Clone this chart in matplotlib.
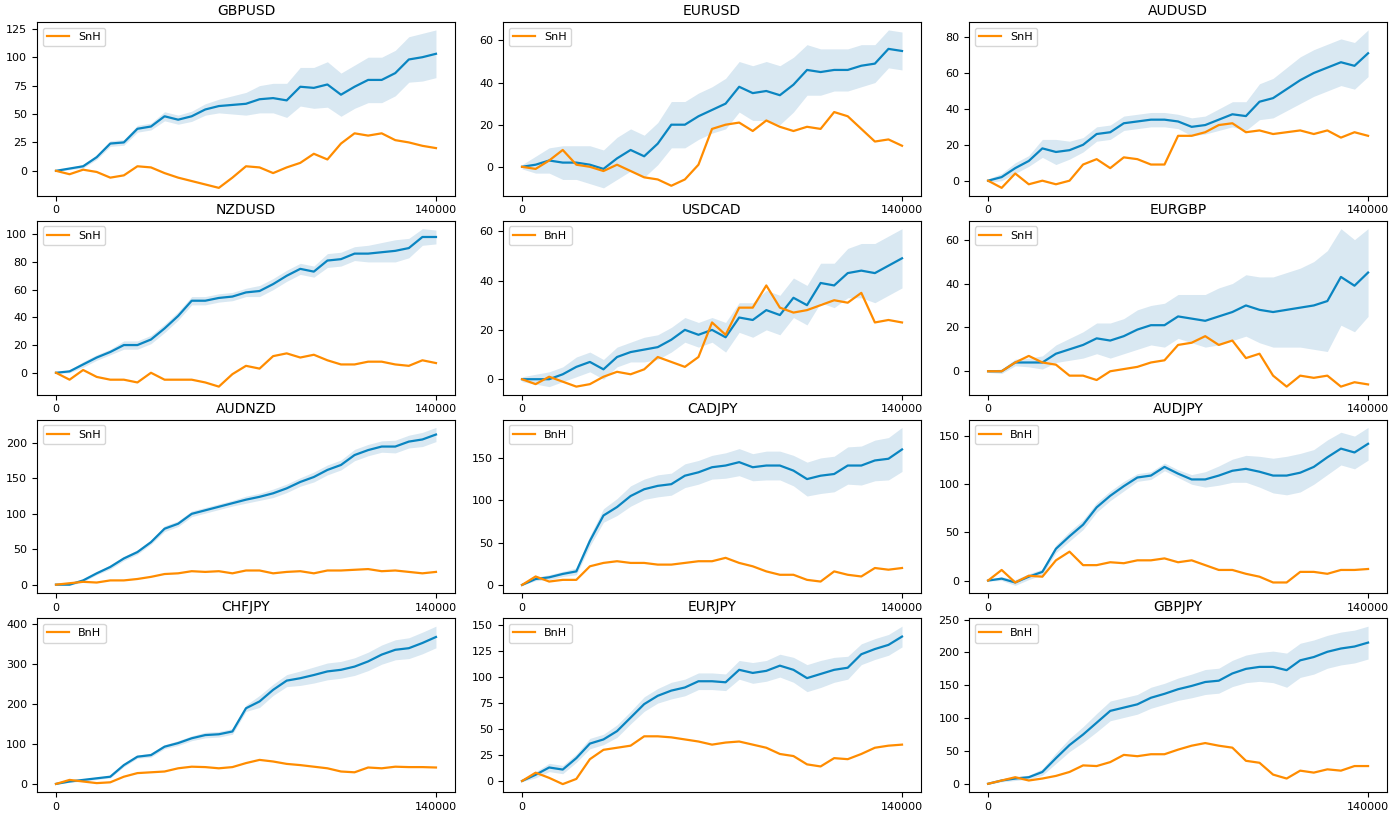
import numpy as np
import matplotlib
matplotlib.use("Agg")
import matplotlib.pyplot as plt

# sample positions (every 5000 steps)
steps = np.arange(0, 140001, 5000)

pairs = ["GBPUSD", "EURUSD", "AUDUSD", "NZDUSD", "USDCAD", "EURGBP",
         "AUDNZD", "CADJPY", "AUDJPY", "CHFJPY", "EURJPY", "GBPJPY"]
bench_labels = ["SnH", "SnH", "SnH", "SnH", "BnH", "SnH",
                "SnH", "BnH", "BnH", "BnH", "BnH", "BnH"]

# mean agent curve, band half width, benchmark curve
gbpusd_mean = [0, 2, 4, 12, 24, 25, 37, 39, 48, 45, 48, 54, 57, 58, 59, 63, 64, 62, 74, 73, 76, 67, 74, 80, 80, 86, 98, 100, 103]
gbpusd_band = [0.5, 1, 1.5, 2, 2.5, 2.5, 3, 3, 4, 4, 4.5, 5, 6, 8, 10, 12, 13, 15, 17, 18, 20, 19, 19, 20, 20, 20, 20, 21, 21]
gbpusd_bench = [0, -3, 1, -1, -6, -4, 4, 3, -2, -6, -9, -12, -15, -6, 4, 3, -2, 3, 7, 15, 10, 24, 33, 31, 33, 27, 25, 22, 20]

eurusd_mean = [0, 1, 3, 2, 2, 1, -1, 4, 8, 5, 11, 20, 20, 24, 27, 30, 38, 35, 36, 34, 39, 46, 45, 46, 46, 48, 49, 56, 55]
eurusd_band = [1, 4, 6, 8, 8, 9, 9, 10, 10, 10, 10, 11, 11, 11, 11, 12, 12, 13, 14, 14, 13, 12, 11, 10, 10, 10, 9, 9, 9]
eurusd_bench = [0, -1, 3, 8, 1, 0, -2, 1, -2, -5, -6, -9, -6, 1, 18, 20, 21, 17, 22, 19, 17, 19, 18, 26, 24, 18, 12, 13, 10]

audusd_mean = [0, 2, 7, 11, 18, 16, 17, 20, 26, 27, 32, 33, 34, 34, 33, 30, 31, 34, 37, 36, 44, 46, 51, 56, 60, 63, 66, 64, 71]
audusd_band = [1, 2, 3, 3, 5, 7, 5, 4, 4, 4, 4, 4, 4, 4, 4, 5, 5, 6, 7, 8, 10, 11, 12, 13, 13, 13, 13, 13, 13]
audusd_bench = [0, -4, 4, -2, 0, -2, 0, 9, 12, 7, 13, 12, 9, 9, 25, 25, 27, 31, 32, 27, 28, 26, 27, 28, 26, 28, 24, 27, 25]

nzdusd_mean = [0, 1, 6, 11, 15, 20, 20, 24, 32, 41, 52, 52, 54, 55, 58, 59, 64, 70, 75, 73, 81, 82, 86, 86, 87, 88, 90, 98, 98]
nzdusd_band = [0.5, 1, 2, 2, 2, 3, 3, 3, 3, 3, 3, 3, 3, 3, 3, 4, 4, 4, 4, 4, 5, 5, 5, 6, 7, 8, 7, 6, 5]
nzdusd_bench = [0, -5, 2, -3, -5, -5, -7, 0, -5, -5, -5, -7, -10, -1, 5, 3, 12, 14, 11, 13, 9, 6, 6, 8, 8, 6, 5, 9, 7]

usdcad_mean = [0, 0, 0, 2, 5, 7, 4, 9, 11, 12, 13, 16, 20, 18, 20, 17, 25, 24, 28, 26, 33, 30, 39, 38, 43, 44, 43, 46, 49]
usdcad_band = [1, 2, 3, 3, 4, 4, 4, 4, 4, 5, 5, 5, 5, 5, 5, 6, 6, 7, 8, 8, 8, 8, 8, 9, 10, 11, 12, 12, 12]
usdcad_bench = [0, -2, 1, -1, -3, -2, 1, 3, 2, 4, 9, 7, 5, 9, 23, 18, 29, 29, 38, 29, 27, 28, 30, 32, 31, 35, 23, 24, 23]

eurgbp_mean = [0, 0, 4, 4, 4, 8, 10, 12, 15, 14, 16, 19, 21, 21, 25, 24, 23, 25, 27, 30, 28, 27, 28, 29, 30, 32, 43, 39, 45]
eurgbp_band = [0.5, 1, 1.5, 2, 3, 4, 5, 6, 7, 8, 8, 9, 9, 10, 10, 11, 12, 13, 13, 14, 15, 16, 17, 18, 20, 23, 22, 21, 20]
eurgbp_bench = [0, 0, 4, 7, 4, 3, -2, -2, -4, 0, 1, 2, 4, 5, 12, 13, 16, 12, 14, 6, 8, -2, -7, -2, -3, -2, -7, -5, -6]

audnzd_mean = [0, 0, 6, 16, 25, 37, 46, 60, 79, 86, 100, 105, 110, 115, 120, 124, 129, 136, 145, 152, 162, 169, 183, 190, 195, 195, 202, 205, 212]
audnzd_band = [0.5, 1, 2, 2, 3, 3, 3, 3, 4, 4, 4, 4, 4, 4, 5, 5, 6, 6, 6, 7, 7, 7, 8, 8, 8, 9, 9, 10, 10]
audnzd_bench = [0, 2, 4, 3, 6, 6, 8, 11, 15, 16, 19, 18, 19, 16, 20, 20, 16, 18, 19, 16, 20, 20, 21, 22, 19, 20, 18, 16, 18]

cadjpy_mean = [0, 7, 9, 13, 16, 52, 82, 92, 105, 113, 117, 119, 129, 133, 139, 141, 145, 139, 141, 141, 135, 125, 129, 131, 141, 141, 147, 149, 160]
cadjpy_band = [0.5, 2, 3, 3, 4, 6, 8, 10, 12, 12, 13, 13, 14, 14, 14, 15, 16, 16, 17, 17, 18, 20, 21, 21, 22, 23, 24, 25, 26]
cadjpy_bench = [0, 10, 4, 6, 6, 22, 26, 28, 26, 26, 24, 24, 26, 28, 28, 32, 26, 22, 16, 12, 12, 6, 4, 16, 12, 10, 20, 18, 20]

audjpy_mean = [0, 2, -2, 4, 9, 33, 46, 58, 76, 88, 98, 107, 109, 118, 111, 105, 105, 109, 114, 116, 113, 109, 109, 112, 118, 128, 137, 133, 142]
audjpy_band = [0.5, 2, 3, 3, 3, 4, 5, 5, 5, 5, 5, 4, 4, 4, 4, 5, 8, 10, 12, 14, 16, 18, 20, 20, 18, 18, 17, 17, 17]
audjpy_bench = [0, 11, -2, 5, 4, 21, 30, 16, 16, 19, 18, 21, 21, 23, 19, 21, 16, 11, 11, 7, 4, -2, -2, 9, 9, 7, 11, 11, 12]

chfjpy_mean = [0, 6, 10, 14, 18, 47, 68, 72, 93, 102, 114, 122, 124, 131, 189, 206, 235, 258, 264, 272, 281, 285, 293, 306, 323, 335, 339, 352, 367]
chfjpy_band = [0.5, 2, 3, 3, 3, 4, 4, 5, 5, 6, 6, 7, 7, 7, 8, 15, 14, 15, 18, 20, 21, 21, 22, 23, 24, 25, 26, 27, 27]
chfjpy_bench = [0, 10, 6, 2, 4, 18, 27, 29, 31, 39, 43, 42, 39, 42, 52, 60, 56, 50, 47, 43, 39, 31, 29, 41, 39, 43, 42, 42, 41]

eurjpy_mean = [0, 6, 13, 11, 22, 36, 40, 48, 61, 74, 82, 87, 90, 96, 96, 95, 107, 104, 106, 111, 107, 99, 103, 107, 109, 122, 127, 131, 139]
eurjpy_band = [0.5, 3, 4, 4, 4, 5, 5, 6, 6, 7, 7, 8, 8, 8, 8, 8, 9, 10, 10, 11, 12, 13, 13, 12, 11, 10, 10, 10, 10]
eurjpy_bench = [0, 8, 3, -3, 2, 21, 30, 32, 34, 43, 43, 42, 40, 38, 35, 37, 38, 35, 32, 26, 24, 16, 14, 22, 21, 26, 32, 34, 35]

gbpjpy_mean = [0, 5, 8, 10, 18, 39, 59, 75, 93, 111, 116, 121, 131, 137, 144, 149, 155, 157, 168, 175, 178, 178, 173, 188, 193, 201, 206, 209, 215]
gbpjpy_band = [0.5, 2, 3, 3, 5, 8, 10, 12, 14, 15, 15, 15, 16, 16, 17, 18, 19, 19, 20, 21, 22, 24, 26, 26, 26, 25, 25, 25, 25]
gbpjpy_bench = [0, 5, 10, 5, 8, 12, 18, 28, 27, 33, 44, 42, 45, 45, 52, 58, 62, 58, 55, 35, 32, 14, 8, 20, 17, 22, 20, 27, 27]

means = [gbpusd_mean, eurusd_mean, audusd_mean, nzdusd_mean, usdcad_mean, eurgbp_mean,
         audnzd_mean, cadjpy_mean, audjpy_mean, chfjpy_mean, eurjpy_mean, gbpjpy_mean]
bands = [gbpusd_band, eurusd_band, audusd_band, nzdusd_band, usdcad_band, eurgbp_band,
         audnzd_band, cadjpy_band, audjpy_band, chfjpy_band, eurjpy_band, gbpjpy_band]
benches = [gbpusd_bench, eurusd_bench, audusd_bench, nzdusd_bench, usdcad_bench, eurgbp_bench,
           audnzd_bench, cadjpy_bench, audjpy_bench, chfjpy_bench, eurjpy_bench, gbpjpy_bench]

fig, axes = plt.subplots(4, 3, figsize=(13.96, 8.16), dpi=100)
fig.subplots_adjust(left=0.0265, right=0.9936, top=0.973, bottom=0.0294,
                    wspace=0.115, hspace=0.144)

for ax, pair, lab, m, b, bn in zip(axes.flat, pairs, bench_labels, means, bands, benches):
    m = np.array(m, dtype=float)
    b = np.array(b, dtype=float)
    ax.fill_between(steps, m - b, m + b, color="#1f77b4", alpha=0.17, linewidth=0)
    ax.plot(steps, m, color="#0a85c1", lw=1.6)
    ax.plot(steps, bn, color="#ff8c00", lw=1.6, label=lab)
    ax.set_title(pair, fontsize=10, pad=5)
    ax.set_xticks([0, 140000])
    ax.set_xticklabels(["0", "140000"])
    ax.tick_params(labelsize=8, length=3.5)
    ax.legend(loc="upper left", fontsize=8, handlelength=2)

fig.savefig("out.png", dpi=100)
